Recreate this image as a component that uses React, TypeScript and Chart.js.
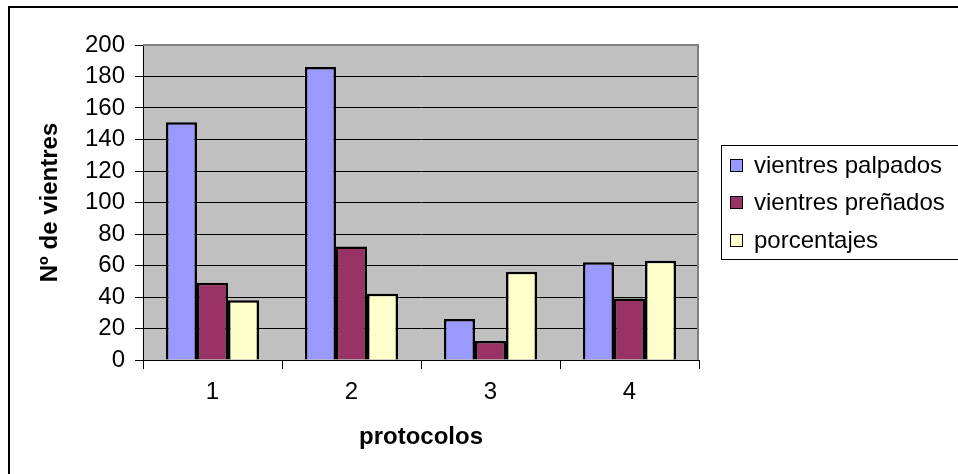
import React, { useEffect, useRef } from "react";
import { Chart, registerables } from "chart.js";

Chart.register(...registerables);

const categories = ["1", "2", "3", "4"];
const palpados = [151, 186, 26, 62];
const prenados = [49, 72, 12, 39];
const porcentajes = [38, 42, 56, 63];
const seriesLabels = ["vientres palpados", "vientres preñados", "porcentajes"];
const seriesColors = ["#9999FF", "#993366", "#FFFFCC"];
const yMin = 0;
const yMax = 200;
const yStep = 20;
const xTitle = "protocolos";
const yTitle = "Nº de vientres";

const FONT = "'Liberation Sans', Arial, sans-serif";
const FS = 24;

const decor = {
  id: "decor",
  beforeDraw(chart: any) {
    const { ctx, chartArea: a } = chart;
    ctx.save();
    ctx.fillStyle = "#ffffff";
    ctx.fillRect(0, 0, chart.width, chart.height);
    ctx.fillStyle = "#C0C0C0";
    ctx.fillRect(a.left, a.top, a.right - a.left, a.bottom - a.top);
    ctx.restore();
  },
  afterDraw(chart: any) {
    const { ctx, chartArea: a } = chart;
    ctx.save();
    // plot border top/right
    ctx.strokeStyle = "#808080";
    ctx.lineWidth = 2;
    ctx.beginPath();
    ctx.moveTo(a.left, a.top);
    ctx.lineTo(a.right - 1, a.top);
    ctx.lineTo(a.right - 1, a.bottom);
    ctx.stroke();
    // outer frame
    ctx.strokeStyle = "#000000";
    ctx.lineWidth = 2;
    ctx.strokeRect(9, 7, 1200, 1200);
    // legend
    const lx = 721.5;
    const ly = 145.5;
    ctx.lineWidth = 1;
    ctx.strokeStyle = "#000000";
    ctx.fillStyle = "#ffffff";
    ctx.fillRect(lx, ly, 400, 114);
    ctx.strokeRect(lx, ly, 400, 114);
    ctx.font = `${FS}px ${FONT}`;
    ctx.textBaseline = "middle";
    ctx.textAlign = "left";
    chart.data.datasets.forEach((ds: any, i: number) => {
      const cy = 165 + i * 37.5;
      ctx.fillStyle = ds.backgroundColor;
      ctx.fillRect(730.5, Math.round(cy - 6.5) + 0.5, 12, 12);
      ctx.strokeStyle = "#000";
      ctx.strokeRect(730.5, Math.round(cy - 6.5) + 0.5, 12, 12);
      ctx.fillStyle = "#000";
      ctx.fillText(ds.label, 754, cy + 1);
    });
    ctx.restore();
  },
};

export default function App() {
  const ref = useRef<HTMLCanvasElement | null>(null);
  useEffect(() => {
    if (!ref.current) return;
    const chart = new Chart(ref.current, {
      type: "bar",
      data: {
        labels: categories,
        datasets: [
          { label: seriesLabels[0], data: palpados, backgroundColor: seriesColors[0] },
          { label: seriesLabels[1], data: prenados, backgroundColor: seriesColors[1] },
          { label: seriesLabels[2], data: porcentajes, backgroundColor: seriesColors[2] },
        ].map((d) => ({
          ...d,
          borderColor: "#000000",
          borderWidth: 2.5,
          categoryPercentage: 0.67,
          barPercentage: 1,
        })),
      },
      options: {
        animation: false,
        responsive: false,
        devicePixelRatio: 1,
        layout: { padding: { top: 45, right: 259, left: 0, bottom: 0 } },
        plugins: { legend: { display: false }, tooltip: { enabled: false } },
        scales: {
          x: {
            grid: { drawOnChartArea: false, color: "#000", tickLength: 9, offset: true },
            border: { color: "#000", width: 1 },
            ticks: { color: "#000", font: { family: FONT, size: FS }, padding: 9 },
            title: {
              display: true,
              text: xTitle,
              color: "#000",
              font: { family: FONT, size: FS, weight: "bold" },
              padding: { top: 0, bottom: 22.6 },
            },
            afterFit: (s: any) => {
              s.height = 114;
            },
          },
          y: {
            min: yMin,
            max: yMax,
            ticks: {
              stepSize: yStep,
              autoSkip: false,
              color: "#000",
              font: { family: FONT, size: FS },
              padding: 10,
            },
            grid: { color: "#000", tickLength: 8, lineWidth: 1 },
            border: { color: "#000", width: 1 },
            title: {
              display: true,
              text: yTitle,
              color: "#000",
              font: { family: FONT, size: FS, weight: "bold" },
              padding: { top: 35.6, bottom: 0 },
            },
            afterFit: (s: any) => {
              s.width = 143;
            },
          },
        },
      },
      plugins: [decor],
    });
    return () => chart.destroy();
  }, []);
  return (
    <div style={{ position: "fixed", left: 0, top: 0, width: 958, height: 474 }}>
      <canvas ref={ref} width={958} height={474} style={{ width: 958, height: 474, display: "block" }} />
    </div>
  );
}
